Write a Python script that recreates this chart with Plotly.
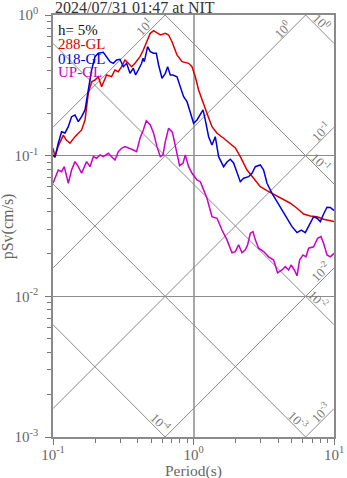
import math
import plotly.graph_objects as go

# --- response spectra (h = 5%), period in s, pseudo velocity in cm/s ---
ew_period = [0.100, 0.1033, 0.109, 0.1184, 0.1243, 0.1321, 0.1434, 0.1598, 0.169, 0.1784,
             0.1883, 0.199, 0.2101, 0.2218, 0.2407, 0.2613, 0.2762, 0.2916, 0.3078, 0.3255,
             0.3436, 0.3626, 0.3834, 0.4162, 0.4394, 0.4613, 0.4925, 0.52, 0.5495, 0.5805,
             0.63, 0.665, 0.703, 0.763, 0.828, 0.923, 0.9757, 1.03, 1.087, 1.149,
             1.247, 1.354, 1.47, 1.638, 1.828, 1.984, 2.153, 2.403, 2.678, 2.988,
             3.336, 3.716, 4.034, 4.503, 4.887, 5.455, 6.076, 6.781, 7.568, 8.433, 10.0]
ew_psv = [0.113, 0.0984, 0.117, 0.140, 0.129, 0.1225, 0.1365, 0.1524, 0.1794, 0.2777,
          0.3357, 0.345, 0.3642, 0.3093, 0.3747, 0.3642, 0.4064, 0.3954, 0.4291, 0.4787,
          0.4535, 0.4291, 0.4535, 0.5053, 0.5639, 0.6427, 0.741, 0.7734, 0.741, 0.721,
          0.741, 0.721, 0.646, 0.5196, 0.4656, 0.4535, 0.4291, 0.3642, 0.293, 0.2488,
          0.2001, 0.1607, 0.1443, 0.133, 0.1225, 0.1135, 0.0984, 0.0791, 0.0691, 0.0602,
          0.0564, 0.0534, 0.0506, 0.0484, 0.0459, 0.0423, 0.0385, 0.0373, 0.0368, 0.0353, 0.0340]

ns_period = [0.100, 0.1033, 0.109, 0.1151, 0.1217, 0.1285, 0.1356, 0.1434, 0.1514, 0.1598,
             0.169, 0.1784, 0.1883, 0.199, 0.2101, 0.228, 0.2407, 0.2545, 0.2687, 0.2837,
             0.2999, 0.3167, 0.3343, 0.3532, 0.3729, 0.3871, 0.4046, 0.4272, 0.4372, 0.4466,
             0.4713, 0.4925, 0.52, 0.5435, 0.5645, 0.5968, 0.630, 0.6544, 0.6839, 0.7147,
             0.763, 0.8054, 0.8503, 0.899, 0.949, 1.0016, 1.059, 1.118, 1.169, 1.213,
             1.281, 1.354, 1.429, 1.509, 1.638, 1.731, 1.828, 1.929, 2.04, 2.153,
             2.273, 2.467, 2.609, 2.754, 2.988, 3.155, 3.336, 3.62, 3.93, 4.265,
             4.63, 5.023, 5.455, 5.853, 6.247, 6.596, 7.158, 7.568, 7.99, 8.433,
             8.916, 9.41, 10.0]
ns_psv = [0.101, 0.0974, 0.1225, 0.148, 0.145, 0.1607, 0.1893, 0.1947, 0.1744, 0.1893,
          0.2113, 0.293, 0.4064, 0.5053, 0.5342, 0.543, 0.5053, 0.4657, 0.4535, 0.4787,
          0.4842, 0.4291, 0.4535, 0.3851, 0.4181, 0.3747, 0.4065, 0.4535, 0.4922, 0.4656,
          0.5953, 0.5483, 0.5342, 0.5342, 0.4413, 0.3549, 0.3851, 0.4291, 0.3747, 0.3747,
          0.3642, 0.3093, 0.2626, 0.242, 0.2055, 0.170, 0.1794, 0.1947, 0.2113, 0.1794,
          0.1365, 0.1191, 0.1365, 0.0984, 0.0835, 0.0902, 0.0943, 0.0887, 0.075, 0.0653,
          0.0691, 0.0709, 0.075, 0.0835, 0.0859, 0.0791, 0.0637, 0.054, 0.0471, 0.0411,
          0.0359, 0.0313, 0.0284, 0.0296, 0.0284, 0.0313, 0.0368, 0.0359, 0.034, 0.0385,
          0.043, 0.0428, 0.0407]

ud_period = [0.100, 0.1033, 0.109, 0.1151, 0.1203, 0.1285, 0.1356, 0.1434, 0.1514, 0.1598,
             0.1734, 0.1834, 0.1936, 0.2043, 0.2161, 0.228, 0.2475, 0.2613, 0.2762, 0.2916,
             0.3078, 0.3255, 0.3532, 0.3729, 0.3936, 0.4162, 0.4394, 0.4613, 0.4925, 0.52,
             0.5495, 0.5805, 0.6066, 0.63, 0.665, 0.703, 0.7147, 0.763, 0.796, 0.8418,
             0.874, 0.923, 0.9757, 1.059, 1.118, 1.18, 1.247, 1.354, 1.47, 1.595,
             1.731, 1.879, 1.984, 2.094, 2.214, 2.337, 2.427, 2.537, 2.652, 2.754,
             2.907, 3.155, 3.424, 3.716, 3.968, 4.265, 4.503, 4.753, 4.943, 5.219,
             5.455, 5.69, 6.017, 6.32, 6.596, 7.158, 7.643, 8.08, 8.433, 8.916, 9.41, 10.0]
ud_psv = [0.0637, 0.0691, 0.0791, 0.0769, 0.0835, 0.0637, 0.0791, 0.0907, 0.0835, 0.075,
          0.0907, 0.0835, 0.0984, 0.0958, 0.1012, 0.0984, 0.104, 0.0984, 0.0932, 0.1068,
          0.1129, 0.1159, 0.1129, 0.1098, 0.1068, 0.133, 0.1523, 0.1773, 0.1653, 0.1443,
          0.1159, 0.0984, 0.1012, 0.1258, 0.1565, 0.148, 0.1403, 0.104, 0.0849, 0.0883,
          0.1012, 0.0835, 0.075, 0.0672, 0.0653, 0.0571, 0.0498, 0.0368, 0.0359, 0.0296,
          0.0252, 0.0204, 0.0208, 0.0232, 0.0204, 0.0214, 0.0232, 0.0281, 0.0288, 0.0252,
          0.022, 0.0208, 0.0191, 0.0181, 0.0147, 0.0154, 0.0163, 0.0154, 0.0167, 0.0154,
          0.014, 0.0181, 0.0197, 0.0191, 0.022, 0.0225, 0.0259, 0.0266, 0.0238, 0.0197,
          0.0191, 0.0202]

series_names = ["288-GL", "018-GL", "UP-GL"]
series_colors = ["#dd0000", "#0000dd", "#cc00cc"]

# tripartite guide levels
accel_levels = [10, 1, 0.1, 0.01, 0.001]        # pSa, cm/s^2 (rising lines)
disp_levels = [1, 0.1, 0.01, 0.001, 0.0001]     # Sd, cm (falling lines)
level_text = {10: "10<sup>1</sup>", 1: "10<sup>0</sup>", 0.1: "10<sup>-1</sup>",
              0.01: "10<sup>-2</sup>", 0.001: "10<sup>-3</sup>", 0.0001: "10<sup>-4</sup>"}

SERIF = "Liberation Serif"
GRAY_LINE = "#8a8a8a"
TWO_PI = 2 * math.pi

fig = go.Figure()

ends = [0.1, 10.0]
for a in accel_levels:
    fig.add_trace(go.Scatter(x=ends, y=[a * t / TWO_PI for t in ends], mode="lines",
                             line=dict(color=GRAY_LINE, width=1), hoverinfo="skip",
                             showlegend=False))
for d in disp_levels:
    fig.add_trace(go.Scatter(x=ends, y=[TWO_PI * d / t for t in ends], mode="lines",
                             line=dict(color=GRAY_LINE, width=1), hoverinfo="skip",
                             showlegend=False))

for per, sv, name, col in zip([ew_period, ns_period, ud_period], [ew_psv, ns_psv, ud_psv],
                              series_names, series_colors):
    fig.add_trace(go.Scatter(x=per, y=sv, mode="lines", name=name,
                             line=dict(color=col, width=1.5), showlegend=False))

annotations = []

# guide labels: centre position along each line (log10 period), lifted just above it
label_logT_accel = {10: -0.350, 1: 0.632, 0.1: 0.906, 0.01: 0.906, 0.001: 0.906}
label_logT_disp = {1: 0.917, 0.1: 0.910, 0.01: 0.888, 0.001: 0.746, 0.0001: -0.236}
LIFT = 0.07
for a, lt in label_logT_accel.items():
    ly = math.log10(a / TWO_PI) + lt
    annotations.append(dict(x=lt, y=ly + LIFT, xref="x", yref="y", text=level_text[a],
                            showarrow=False, textangle=-45, xanchor="center", yanchor="middle",
                            font=dict(family=SERIF, size=13, color="#7a7a7a")))
for d, lt in label_logT_disp.items():
    ly = math.log10(TWO_PI * d) - lt
    annotations.append(dict(x=lt, y=ly + LIFT, xref="x", yref="y", text=level_text[d],
                            showarrow=False, textangle=45, xanchor="center", yanchor="middle",
                            font=dict(family=SERIF, size=13, color="#7a7a7a")))

# in-plot key
PLOT_H = 422.0
key_rows = [("h= 5%", "#111111", 30)] + [(n, c, yy) for n, c, yy in
                                         zip(series_names, series_colors, [44, 58.5, 72.5])]
for txt, col, ypx in key_rows:
    annotations.append(dict(x=0.0153, y=1 - (ypx - 15) / PLOT_H, xref="paper", yref="paper",
                            text=txt, showarrow=False, xanchor="left", yanchor="middle",
                            borderpad=0,
                            font=dict(family=SERIF, size=15, color=col)))

# title and axis titles
annotations.append(dict(x=0.0, y=1.0, xref="paper", yref="paper", yshift=-3,
                        text="2024/07/31 01:47 at NIT", showarrow=False,
                        xanchor="left", yanchor="bottom",
                        font=dict(family=SERIF, size=16, color="#333333")))
annotations.append(dict(x=-0.159, y=0.5, xref="paper", yref="paper", text="pSv(cm/s)",
                        showarrow=False, textangle=-90, xanchor="center", yanchor="middle",
                        font=dict(family=SERIF, size=16, color="#666666")))
annotations.append(dict(x=0.5, y=-0.0735, xref="paper", yref="paper", yshift=-3,
                        text="Period(s)", showarrow=False, xanchor="center", yanchor="middle",
                        borderpad=0,
                        font=dict(family=SERIF, size=15.5, color="#666666")))

x_minor = [k * 0.1 for k in range(2, 10)] + [float(k) for k in range(2, 10)]
y_minor = [k * m for m in (0.001, 0.01, 0.1) for k in range(2, 10)]

axis_common = dict(type="log", showline=True, linecolor=GRAY_LINE, linewidth=1.5,
                   mirror=True, ticks="outside", ticklen=6, tickcolor="#777777",
                   tickwidth=1, zeroline=False, automargin=False,
                   tickfont=dict(family=SERIF, size=15, color="#666666"))

fig.update_layout(
    width=347, height=478,
    margin=dict(l=53, r=13, t=15, b=41),
    paper_bgcolor="white", plot_bgcolor="white",
    showlegend=False,
    annotations=annotations,
    xaxis=dict(range=[-1, 1], tickvals=[0.1, 1, 10],
               ticktext=["10<sup>-1</sup>", "10<sup>0</sup>", "10<sup>1</sup>"],
               ticklabelstandoff=-3,
               showgrid=True, gridcolor="#a8a8a8", gridwidth=2,
               minor=dict(tickmode="array", tickvals=x_minor, ticks="outside", ticklen=4,
                          tickcolor="#777777", showgrid=False),
               **axis_common),
    yaxis=dict(range=[-3, 0], tickvals=[0.001, 0.01, 0.1, 1],
               ticktext=["10<sup>-3</sup>", "10<sup>-2</sup>", "10<sup>-1</sup>", "10<sup>0</sup>"],
               ticklabelstandoff=4,
               showgrid=True, gridcolor="#8c8c8c", gridwidth=1,
               minor=dict(tickmode="array", tickvals=y_minor, ticks="outside", ticklen=4,
                          tickcolor="#777777", showgrid=False),
               **axis_common),
)

fig.write_html("out.html")
